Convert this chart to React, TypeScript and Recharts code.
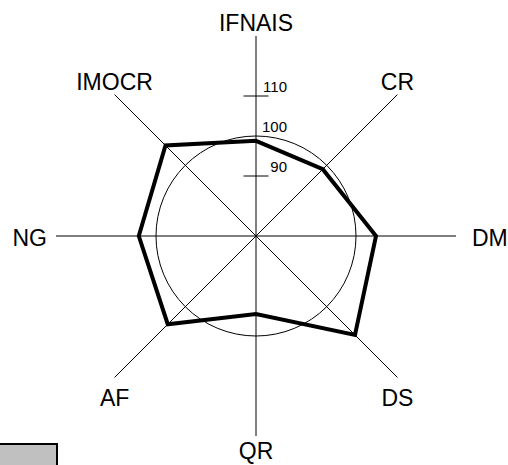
import React from "react";
import {
  RadarChart,
  Radar,
  PolarGrid,
  PolarAngleAxis,
  PolarRadiusAxis,
} from "recharts";

const categories = ["IFNAIS", "CR", "DM", "DS", "QR", "AF", "NG", "IMOCR"];
const values = [98.8, 98.6, 105, 110, 94.5, 106.2, 104.3, 107];
const radiusDomain: [number, number] = [75, 125];
const labelledTicks = [90, 100, 110];
const circleAt = [100];

const W = 508;
const H = 465;
const CX = 256;
const CY = 236;
const R = 200;
const FONT = "'Liberation Sans', Arial, sans-serif";

const data = categories.map((axis, i) => ({ axis, value: values[i] }));

const toRadius = (v: number) =>
  ((v - radiusDomain[0]) / (radiusDomain[1] - radiusDomain[0])) * R;

function AngleTick(props: any) {
  const { payload } = props;
  const angle = payload.coordinate;
  const rad = (angle * Math.PI) / 180;
  const cos = Math.cos(rad);
  const sin = Math.sin(rad);
  const ex = CX + R * cos;
  const ey = CY - R * sin;
  let anchor: "start" | "middle" | "end" = "middle";
  let x = ex;
  let y = ey;
  if (cos > 0.9) {
    anchor = "start";
    x = ex + 16;
    y = ey + 10;
  } else if (cos < -0.9) {
    anchor = "end";
    x = ex - 9;
    y = ey + 10;
  } else if (sin > 0.1) {
    y = ey - 5;
  } else if (sin < -0.9) {
    y = ey + 23; // bottom label, kept inside the page
  } else {
    y = ey + 29;
  }
  return (
    <text x={x} y={y} textAnchor={anchor} fontSize={23} fontFamily={FONT} fill="#000">
      {payload.value}
    </text>
  );
}

function RadiusTick(props: any) {
  const { x, y, payload } = props;
  if (!labelledTicks.includes(payload.value)) return <g />;
  return (
    <g>
      {!circleAt.includes(payload.value) && (
        <line x1={x - 12.5} x2={x + 12.5} y1={y} y2={y} stroke="#000" strokeWidth={1} />
      )}
      <text x={x + 31} y={y - 4.5} textAnchor="end" fontSize={15} fontFamily={FONT} fill="#000">
        {payload.value}
      </text>
    </g>
  );
}

export default function App() {
  return (
    <div
      style={{
        position: "absolute",
        left: 0,
        top: 0,
        width: W,
        height: H,
        overflow: "hidden",
        background: "#fff",
      }}
    >
      <RadarChart
        width={W}
        height={H}
        data={data}
        cx={CX}
        cy={CY}
        outerRadius={R}
        margin={{ top: 0, right: 0, bottom: 0, left: 0 }}
      >
        <PolarGrid
          gridType="circle"
          polarRadius={circleAt.map(toRadius)}
          stroke="#000"
          strokeWidth={1}
          strokeOpacity={1}
        />
        <PolarAngleAxis
          dataKey="axis"
          tick={AngleTick}
          tickLine={false}
          axisLine={false}
        />
        <PolarRadiusAxis
          angle={90}
          domain={radiusDomain}
          tickCount={11}
          tick={RadiusTick}
          tickLine={false}
          axisLine={false}
        />
        <Radar
          dataKey="value"
          stroke="#000"
          strokeWidth={4}
          strokeLinejoin="miter"
          fill="none"
          fillOpacity={0}
          dot={false}
          isAnimationActive={false}
        />
      </RadarChart>
      {/* legend swatch, mostly cut off at bottom-left */}
      <div
        style={{
          position: "absolute",
          left: -20,
          top: 443,
          width: 74,
          height: 40,
          background: "#c0c0c0",
          border: "2px solid #000",
        }}
      />
    </div>
  );
}
